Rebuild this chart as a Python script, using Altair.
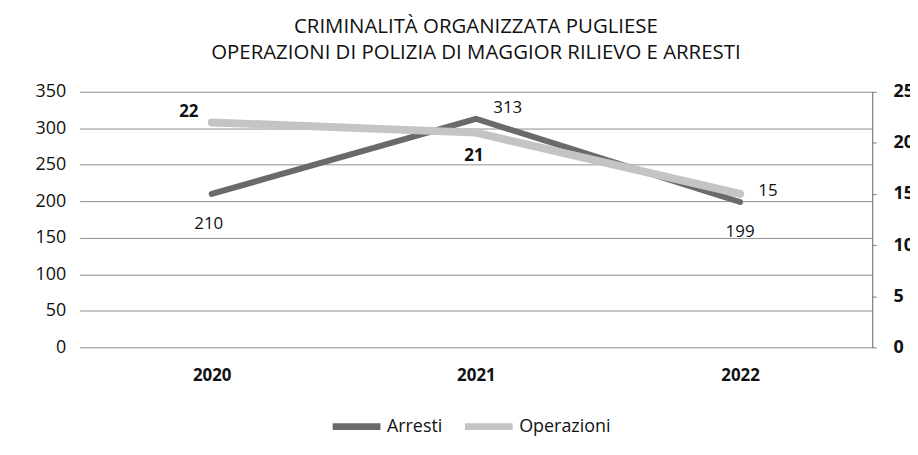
import altair as alt
import pandas as pd

years = ["2020", "2021", "2022"]
arresti = [210, 313, 199]
operazioni = [22, 21, 15]
series = ["Arresti", "Operazioni"]
title_lines = ["CRIMINALITÀ ORGANIZZATA PUGLIESE",
               "OPERAZIONI DI POLIZIA DI MAGGIOR RILIEVO E ARRESTI"]

df_a = pd.DataFrame({"anno": years, "serie": "Arresti", "valore": arresti})
df_o = pd.DataFrame({"anno": years, "serie": "Operazioni", "valore": operazioni})

FONT = "Open Sans"

x_enc = alt.X("anno:N", sort=years,
              scale=alt.Scale(type="point", padding=0.5),
              axis=alt.Axis(title=None, labelAngle=0, ticks=False, domain=False,
                            labelPadding=20, labelFontSize=17, labelFont=FONT,
                            labelColor="#111", labelFontWeight="bold"))

color_enc = alt.Color("serie:N",
                      scale=alt.Scale(domain=series, range=["#6a6a6a", "#c4c4c4"]),
                      legend=alt.Legend(title=None, orient="none", legendX=251, legendY=309,
                                        direction="horizontal", symbolType="stroke",
                                        symbolSize=2304, symbolStrokeWidth=7,
                                        labelFontSize=18, labelFont=FONT, labelColor="#111",
                                        columnPadding=8, labelOffset=3))

y_left = alt.Y("valore:Q", scale=alt.Scale(domain=[0, 350]),
               axis=alt.Axis(title=None, values=list(range(0, 351, 50)), ticks=False,
                             domain=False, grid=True, gridColor="#8f8f8f", gridWidth=1,
                             labelPadding=14, labelFontSize=18, labelFont=FONT,
                             labelColor="#111"))

y_right = alt.Y("valore:Q", scale=alt.Scale(domain=[0, 25]),
                axis=alt.Axis(title=None, orient="right", values=list(range(0, 26, 5)),
                              ticks=True, tickSize=4, tickColor="#777", domain=True,
                              domainColor="#666", grid=False, labelPadding=17,
                              labelFontSize=18, labelFont=FONT, labelColor="#111",
                              labelFontWeight="bold"))


def label(df, y, year, dx, dy, bold=False):
    return alt.Chart(df).transform_filter(alt.datum.anno == year).mark_text(
        dx=dx, dy=dy, fontSize=17, font=FONT, color="#111",
        fontWeight="bold" if bold else "normal"
    ).encode(x=x_enc, y=y, text="valore:Q")


line_a = alt.Chart(df_a).mark_line(strokeWidth=6, strokeCap="round", strokeJoin="round").encode(
    x=x_enc, y=y_left, color=color_enc)
line_o = alt.Chart(df_o).mark_line(strokeWidth=8, strokeCap="round", strokeJoin="round").encode(
    x=x_enc, y=y_right, color=color_enc)

left = alt.layer(
    line_a,
    label(df_a, y_left, "2020", -3, 30),
    label(df_a, y_left, "2021", 32, -11),
    label(df_a, y_left, "2022", 0, 30),
)
right = alt.layer(
    line_o,
    label(df_o, y_right, "2020", -23, -10, True),
    label(df_o, y_right, "2021", -2, 24, True),
    label(df_o, y_right, "2022", 28, -3),
)

chart = alt.layer(left, right).resolve_scale(y="independent", color="shared").properties(
    width=797, height=257,
    title=alt.TitleParams(title_lines, fontSize=20.5, font=FONT, fontWeight="normal",
                          lineHeight=27, offset=19, anchor="middle", color="#111"),
    autosize=alt.AutoSizeParams(type="none"),
    padding={"left": 72, "top": 83, "right": 38, "bottom": 95},
).configure_view(stroke=None)

chart.save("out.html", embed_options={"renderer": "svg", "actions": False})
